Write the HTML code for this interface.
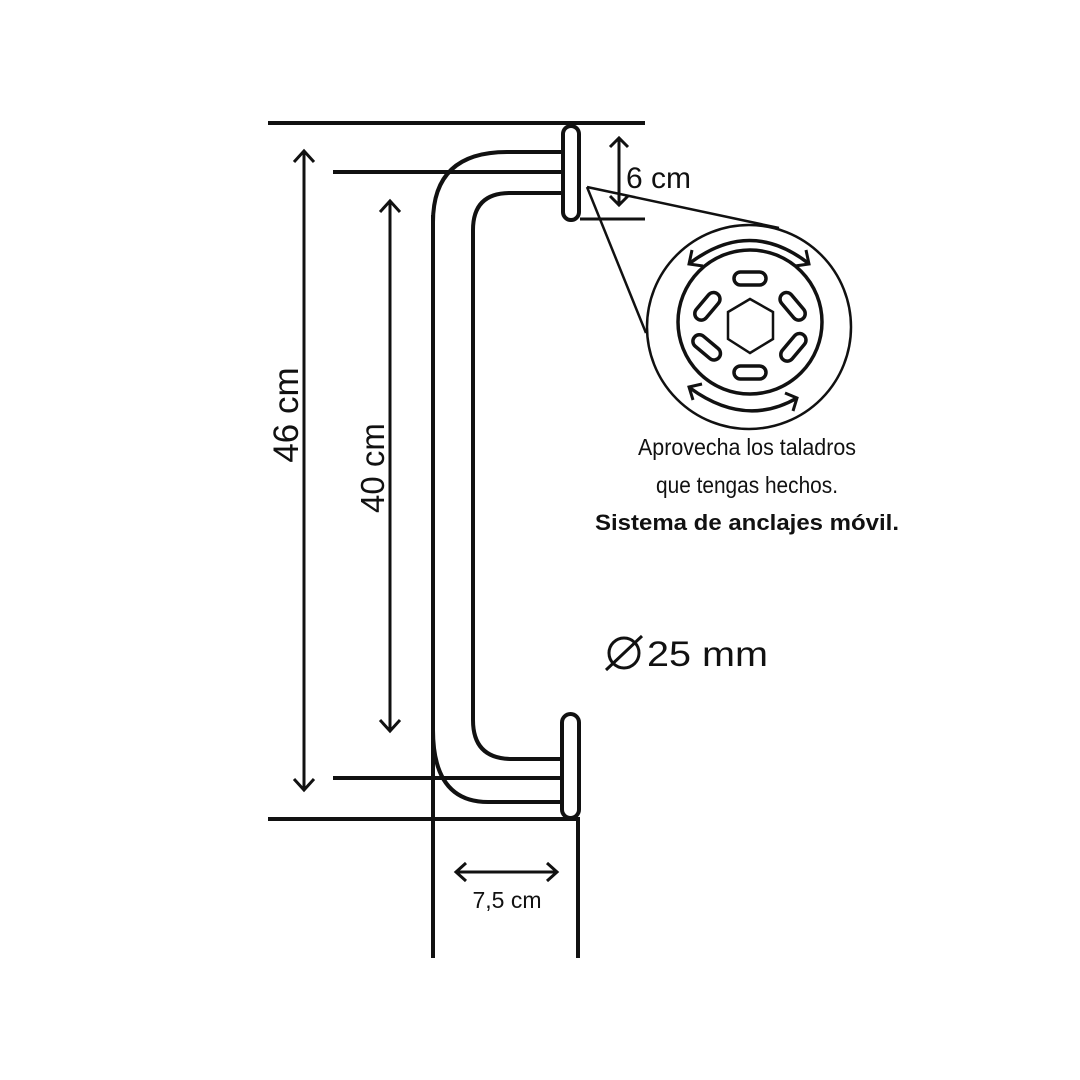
<!DOCTYPE html>
<html><head><meta charset="utf-8"><style>
html,body{margin:0;padding:0;background:#fff}
svg{display:block}
text{font-family:"Liberation Sans",sans-serif;fill:#111}
</style></head><body>
<svg width="1080" height="1080" viewBox="0 0 1080 1080" xmlns="http://www.w3.org/2000/svg">
<g fill="none" stroke="#111" stroke-linecap="butt">
<line x1="268" y1="123" x2="645" y2="123" stroke-width="4"/>
<line x1="268" y1="819" x2="580" y2="819" stroke-width="4"/>
<line x1="333" y1="172" x2="562" y2="172" stroke-width="4"/>
<line x1="333" y1="778" x2="562" y2="778" stroke-width="4"/>
<line x1="580" y1="219" x2="645" y2="219" stroke-width="3"/>
<line x1="433" y1="215" x2="433" y2="958" stroke-width="4"/>
<line x1="578" y1="818" x2="578" y2="958" stroke-width="4"/>
<path d="M562 152 L507 152 Q433 152 433 222" stroke-width="4"/>
<path d="M562 193 L510 193 Q473 193 473 230 L473 720 Q473 759 512 759 L562 759" stroke-width="4"/>
<path d="M433 730 Q433 802 488 802 L562 802" stroke-width="4"/>
<rect x="563" y="126" width="16" height="94" rx="8" stroke-width="4" fill="#fff"/>
<rect x="562" y="714" width="17" height="104" rx="8.5" stroke-width="4" fill="#fff"/>
<g stroke-width="3">
<line x1="304" y1="151" x2="304" y2="790"/>
<polyline points="294,162 304,151 314,162"/>
<polyline points="294,779 304,790 314,779"/>
<line x1="390" y1="201" x2="390" y2="731"/>
<polyline points="380,212 390,201 400,212"/>
<polyline points="380,720 390,731 400,720"/>
<line x1="619" y1="138" x2="619" y2="205"/>
<polyline points="610,147 619,138 628,147"/>
<polyline points="610,196 619,205 628,196"/>
<line x1="456" y1="872" x2="557" y2="872"/>
<polyline points="466,863 456,872 466,881"/>
<polyline points="547,863 557,872 547,881"/>
</g>
<g stroke-width="2.5">
<line x1="587" y1="187" x2="779" y2="228"/>
<line x1="587" y1="187" x2="646" y2="333"/>
<circle cx="749" cy="327" r="102"/>
<circle cx="750" cy="322" r="72" stroke-width="3.5"/>
<polygon points="750,299 773,312 773,339 750,353 728,339 728,312" stroke-width="2.5"/>
<path d="M690 263 Q750 218 808 263" stroke-width="3.5"/>
<polyline points="692,250 689,264 703,266" stroke-width="3"/>
<polyline points="795,266 809,264 806,250" stroke-width="3"/>
<path d="M690 388 Q745 428 797 398" stroke-width="3.5"/>
<polyline points="702,384 689,387 693,400" stroke-width="3"/>
<polyline points="785,393 797,398 793,411" stroke-width="3"/>
</g>
<g stroke-width="3.5">
<rect x="734" y="272" width="32" height="13" rx="6.5"/>
<rect x="734" y="366" width="32" height="13" rx="6.5"/>
<rect x="691" y="300" width="32" height="13" rx="6.5" transform="rotate(-50 707 306)"/>
<rect x="777" y="300" width="32" height="13" rx="6.5" transform="rotate(50 793 306)"/>
<rect x="691" y="341" width="32" height="13" rx="6.5" transform="rotate(40 707 347)"/>
<rect x="777" y="341" width="32" height="13" rx="6.5" transform="rotate(-50 793 347)"/>
</g>
<circle cx="624" cy="653" r="15" stroke-width="3"/>
<line x1="606" y1="670" x2="642" y2="636" stroke-width="3"/>
</g>
<text x="626" y="188" font-size="30">6 cm</text>
<text x="507" y="908" font-size="23" text-anchor="middle">7,5 cm</text>
<text transform="translate(298 415) rotate(-90)" font-size="35" text-anchor="middle">46 cm</text>
<text transform="translate(384 468) rotate(-90)" font-size="33" text-anchor="middle">40 cm</text>
<text x="747" y="455" font-size="23" text-anchor="middle" textLength="218" lengthAdjust="spacingAndGlyphs">Aprovecha los taladros</text>
<text x="747" y="493" font-size="23" text-anchor="middle" textLength="182" lengthAdjust="spacingAndGlyphs">que tengas hechos.</text>
<text x="747" y="530" font-size="22" font-weight="bold" text-anchor="middle" textLength="304" lengthAdjust="spacingAndGlyphs">Sistema de anclajes móvil.</text>
<text x="647" y="666" font-size="35" textLength="121" lengthAdjust="spacingAndGlyphs">25 mm</text>
</svg>
</body></html>
